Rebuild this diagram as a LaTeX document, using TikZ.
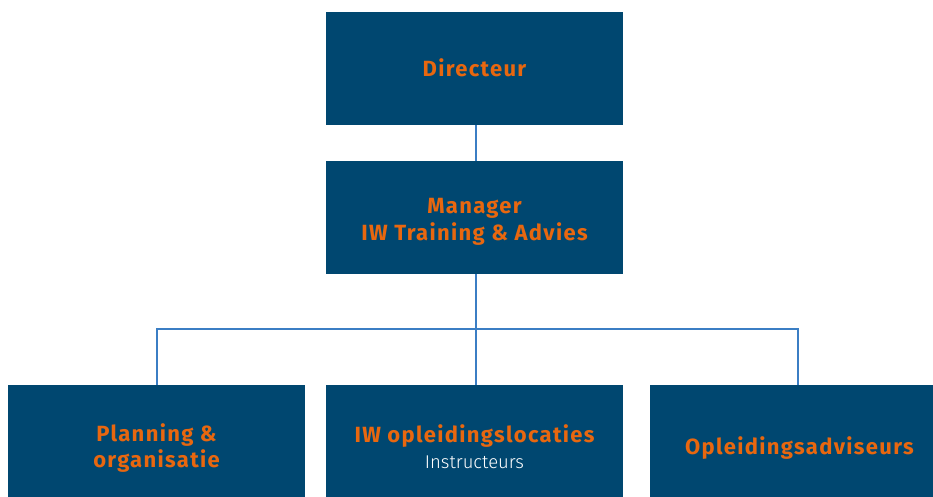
\documentclass[tikz,border=0pt]{standalone}
\usepackage{fontspec}
\setmainfont{Fira Sans}
\newfontfamily\lightfont{Fira Sans Light}
\definecolor{boxblue}{RGB}{0,71,112}
\definecolor{orgorange}{RGB}{232,103,15}
\definecolor{linkblue}{RGB}{59,126,196}
\newcommand{\hd}{\fontsize{22}{27}\selectfont\bfseries\addfontfeature{LetterSpace=6}\color{orgorange}}
\newcommand{\sub}{\lightfont\fontsize{18.5}{27}\selectfont\color{white}}
\tikzset{
  orgbox/.style={fill=boxblue, draw=none, minimum width=297pt, minimum height=113pt, inner sep=0pt},
  hdtext/.style={font=\hd, inner sep=0pt, anchor=base},
  subtext/.style={font=\sub, inner sep=0pt, anchor=base},
  link/.style={draw=linkblue, line width=2pt}
}
\begin{document}
\begin{tikzpicture}[x=1pt,y=-1pt]
\useasboundingbox (0,0) rectangle (933,497);
\node[orgbox] (dir) at (474.5,68.5) {};
\node[orgbox] (mgr) at (474.5,217.5) {};
\node[orgbox] (plan) at (156.5,441.5) {};
\node[orgbox] (loc) at (474.5,441.5) {};
\node[orgbox] (adv) at (798,441.5) {};
\node[hdtext] (dirt) at (474.5,77) {Directeur};
\node[hdtext] (mgrt1) at (474.5,213) {Manager};
\node[hdtext] (mgrt2) at (474.5,240) {IW Training \& Advies};
\node[hdtext] (plant1) at (156.5,441) {Planning \&};
\node[hdtext] (plant2) at (156.5,467) {organisatie};
\node[hdtext] (loct1) at (474.5,442) {IW opleidingslocaties};
\node[subtext] (loct2) at (474.5,468) {Instructeurs};
\node[hdtext] (advt) at (799.5,454) {Opleidingsadviseurs};
\coordinate (hub) at (476,329);
\draw[link] ([xshift=1.5pt]dir.south) -- ([xshift=1.5pt]mgr.north);
\draw[link] ([xshift=1.5pt]mgr.south) -- ([xshift=1.5pt]loc.north);
\draw[link] (plan.north) |- (hub) -| (adv.north);
\end{tikzpicture}
\end{document}
